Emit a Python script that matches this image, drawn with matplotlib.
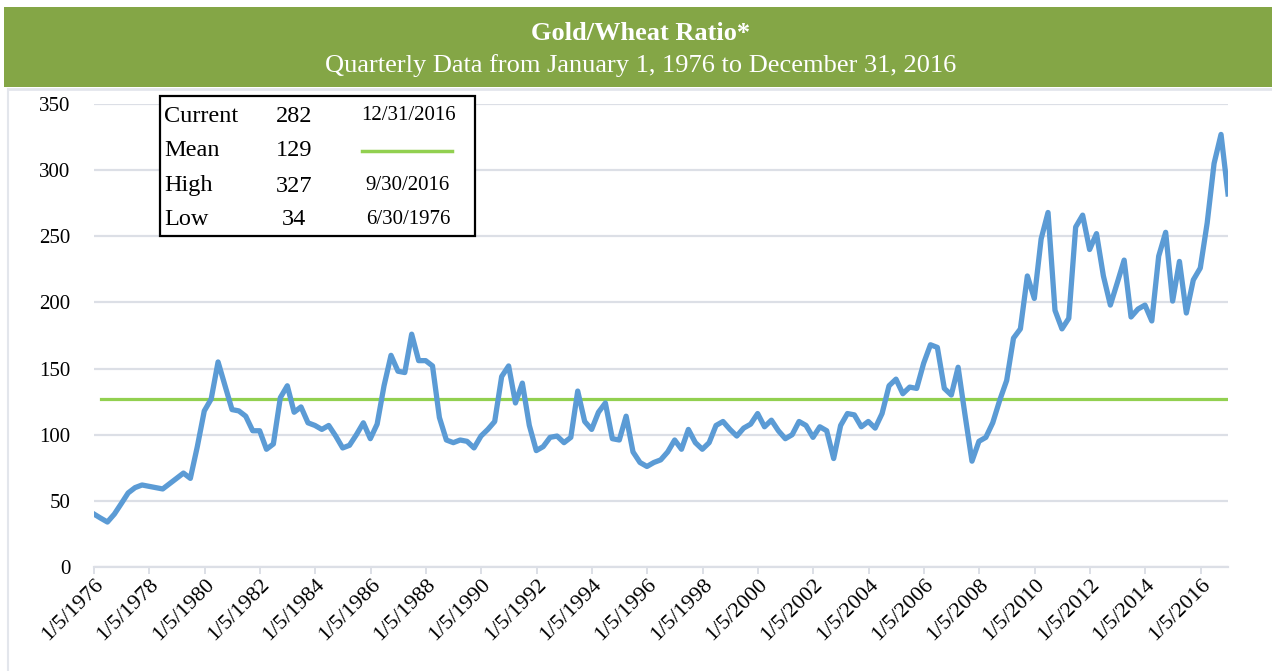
import matplotlib
matplotlib.use("Agg")
import matplotlib.pyplot as plt
from matplotlib.patches import Rectangle
from matplotlib.lines import Line2D
import pandas as pd
import datetime as dt

# ---------------- data ----------------
first_date = "1976-01-05"
last_date = "2016-12-31"
quarter_ends_start = "1976-03-31"

ratio = [40, 37, 34, 40, 48, 56, 60, 62, 61, 60,
         59, 63, 67, 71, 67, 91, 118, 127, 155, 137,
         119, 118, 114, 103, 103, 89, 93, 128, 137, 117,
         121, 109, 107, 104, 107, 99, 90, 92, 100, 109,
         97, 108, 137, 160, 148, 147, 176, 156, 156, 152,
         113, 96, 94, 96, 95, 90, 99, 104, 110, 144,
         152, 124, 139, 107, 88, 91, 98, 99, 94, 98,
         133, 110, 104, 117, 124, 97, 96, 114, 87, 79,
         76, 79, 81, 87, 96, 89, 104, 94, 89, 94,
         107, 110, 104, 99, 105, 108, 116, 106, 111, 103,
         97, 100, 110, 107, 98, 106, 103, 82, 107, 116,
         115, 106, 110, 105, 116, 137, 142, 131, 136, 135,
         154, 168, 166, 135, 130, 151, 115, 80, 95, 98,
         109, 126, 141, 173, 180, 220, 203, 248, 268, 194,
         180, 188, 257, 266, 240, 252, 220, 198, 215, 232,
         189, 195, 198, 186, 235, 253, 201, 231, 192, 217,
         226, 260, 305, 327, 282]

mean_line_value = 127
stat_labels = ["Current", "Mean", "High", "Low"]
stat_values = ["282", "129", "327", "34"]
stat_dates = ["12/31/2016", None, "9/30/2016", "6/30/1976"]

y_ticks = [0, 50, 100, 150, 200, 250, 300, 350]
tick_years = list(range(1976, 2017, 2))

title = "Gold/Wheat Ratio*"
subtitle = "Quarterly Data from January 1, 1976 to December 31, 2016"

dates = [pd.Timestamp(first_date)] + list(pd.date_range(quarter_ends_start, last_date, freq="QE"))

# ---------------- figure ----------------
W, H = 1272, 671
fig = plt.figure(figsize=(W / 100, H / 100), dpi=100)
fig.patch.set_facecolor("white")
SERIF = ["Liberation Serif", "DejaVu Serif"]

def fx(x):
    return x / W

def fy(y):
    return 1 - y / H

# header band
fig.add_artist(Rectangle((fx(4), fy(87)), fx(1268), 80 / H, transform=fig.transFigure,
                         facecolor="#84A646", edgecolor="none", zorder=0))
fig.text(fx(641), fy(33), title, color="white", fontsize=19, fontweight="bold",
         family=SERIF, ha="center", va="center")
fig.text(fx(641), fy(66), subtitle, color="white", fontsize=19,
         family=SERIF, ha="center", va="center")
# light frame lines
fig.add_artist(Line2D([fx(8), 1], [fy(89), fy(89)], transform=fig.transFigure,
                      color="#E3E6EC", lw=2))
fig.add_artist(Line2D([fx(8), fx(8)], [fy(89), 0], transform=fig.transFigure,
                      color="#E3E6EC", lw=1.5))

# axes
ax = fig.add_axes([fx(94), fy(567), (1228 - 94) / W, (567 - 104) / H])
ax.set_facecolor("white")
ax.plot(dates, ratio, color="#5B9BD5", lw=3.8, solid_joinstyle="round", zorder=3)
ax.plot([dates[1], dates[-1]], [mean_line_value, mean_line_value], color="#92D050",
        lw=2.3, zorder=2)

ax.set_xlim(pd.Timestamp(first_date), pd.Timestamp(last_date))
ax.set_ylim(0, 350)
ax.set_yticks(y_ticks)
ax.set_yticklabels([str(v) for v in y_ticks], family=SERIF, fontsize=15)
ax.yaxis.grid(True, color="#DCDFE6", lw=1.6)
ax.set_axisbelow(True)
for s in ["top", "right", "left"]:
    ax.spines[s].set_visible(False)
ax.spines["bottom"].set_color("#DCDFE6")
ax.spines["bottom"].set_linewidth(1.6)
ax.tick_params(axis="y", length=0, pad=17)

xt = [dt.datetime(y, 1, 5) for y in tick_years]
ax.set_xticks(xt)
ax.set_xticklabels([f"1/5/{y}" for y in tick_years], family=SERIF, fontsize=16,
                   rotation=45, ha="right", va="top", rotation_mode="anchor")
ax.tick_params(axis="x", length=5, width=1.4, color="#DCDFE6", pad=1)

# stats box
fig.add_artist(Rectangle((fx(160), fy(236)), (475 - 160) / W, (236 - 96) / H,
                         transform=fig.transFigure, facecolor="white",
                         edgecolor="black", lw=1.6, zorder=5))
row_y = [116, 151, 186, 220]
for i, yy in enumerate(row_y):
    fig.text(fx(164), fy(yy), stat_labels[i], family=SERIF, fontsize=17.5,
             ha="left", va="center", zorder=6)
    fig.text(fx(294), fy(yy), stat_values[i], family=SERIF, fontsize=17.5,
             ha="center", va="center", zorder=6)
    if stat_dates[i] is not None:
        fig.text(fx(408), fy(yy), stat_dates[i], family=SERIF, fontsize=15,
                 ha="center", va="center", zorder=6)
    else:
        fig.add_artist(Line2D([fx(362), fx(452)], [fy(151), fy(151)],
                              transform=fig.transFigure, color="#92D050", lw=2.5,
                              zorder=6))

fig.savefig("out.png", dpi=100, facecolor="white")
